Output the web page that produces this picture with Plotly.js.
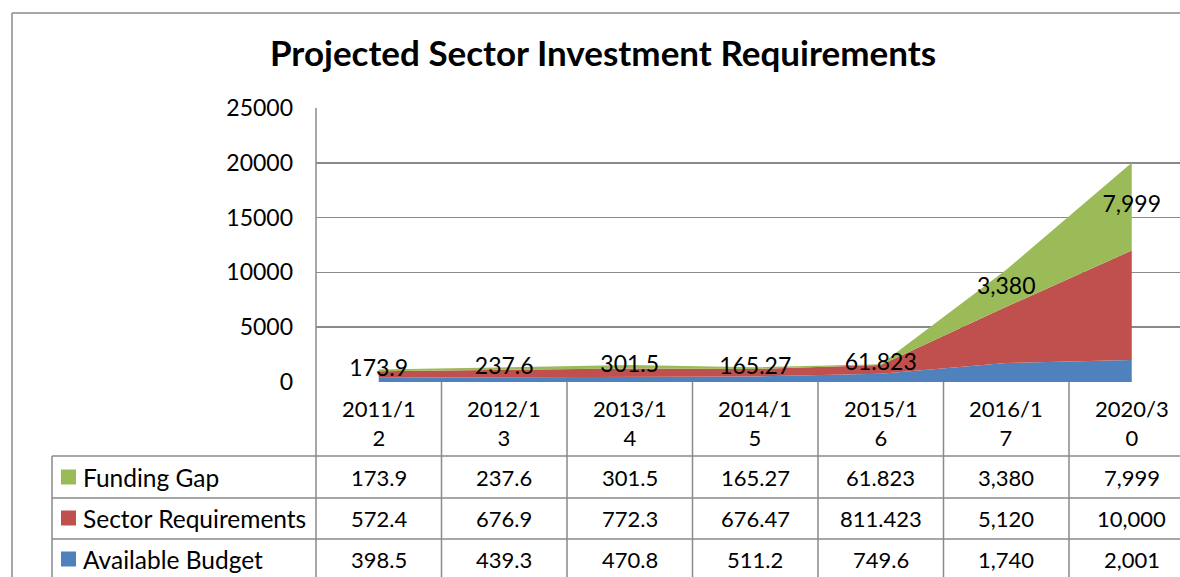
<!DOCTYPE html>
<html>
<head>
<meta charset="utf-8">
<script src="https://cdn.plot.ly/plotly-3.0.1.min.js"></script>
<style>
  html, body { margin: 0; padding: 0; background: #ffffff; }
  #chart { width: 1180px; height: 577px; }
</style>
</head>
<body>
<div id="chart"></div>
<script>
// ---- Data ----
const categories = ["2011/12", "2012/13", "2013/14", "2014/15", "2015/16", "2016/17", "2020/30"];
const seriesNames = ["Funding Gap", "Sector Requirements", "Available Budget"];
const fundingGap = [173.9, 237.6, 301.5, 165.27, 61.823, 3380, 7999];
const sectorRequirements = [572.4, 676.9, 772.3, 676.47, 811.423, 5120, 10000];
const availableBudget = [398.5, 439.3, 470.8, 511.2, 749.6, 1740, 2001];
const yTicks = [0, 5000, 10000, 15000, 20000, 25000];

// ---- Style ----
const FONT = "Lato, 'Open Sans', sans-serif";
const GRID = "#8a8a8a";
const colors = { "Funding Gap": "#9BBB59", "Sector Requirements": "#C0504D", "Available Budget": "#4F81BD" };

// pixel helpers (plot area: x 316..1180, y 108..382)
const PL = 316, PR = 1180, PT = 108, PB = 382;
const px2paperX = p => (p - PL) / (PR - PL);
const px2paperY = p => (PB - p) / (PB - PT);

const fmt = v => v.toLocaleString("en-US", { maximumFractionDigits: 3 });
const wrapCat = c => c.slice(0, 6) + "<br>" + c.slice(6);

const seriesData = {
  "Funding Gap": fundingGap,
  "Sector Requirements": sectorRequirements,
  "Available Budget": availableBudget
};

// stacked areas (bottom to top)
const stackOrder = ["Available Budget", "Sector Requirements", "Funding Gap"];
const traces = stackOrder.map(name => ({
  type: "scatter",
  mode: "lines",
  name: name,
  x: categories,
  y: seriesData[name],
  stackgroup: "one",
  line: { width: 0, color: colors[name] },
  fillcolor: colors[name],
  hoverinfo: "x+y+name"
}));

// data labels centred in the funding gap band
const labelY = categories.map((c, i) => availableBudget[i] + sectorRequirements[i] + fundingGap[i] / 2);
traces.push({
  type: "scatter",
  mode: "text",
  x: categories,
  y: labelY,
  text: fundingGap.map(fmt),
  textposition: "middle center",
  textfont: { family: FONT, size: 23, color: "#000000" },
  cliponaxis: false,
  hoverinfo: "skip",
  showlegend: false
});

// ---- Table (shapes + annotations) ----
const rowLinesPx = [456, 498, 539];
const rowCentersPx = [477, 518, 559];
const shapes = [];
const annotations = [];

// outer frame (left + top)
const frameX = px2paperX(12), frameY = px2paperY(13);
shapes.push({ type: "line", xref: "paper", yref: "paper", x0: frameX, x1: frameX, y0: frameY, y1: -1, line: { color: GRID, width: 1.5 } });
shapes.push({ type: "line", xref: "paper", yref: "paper", x0: frameX, x1: 1.05, y0: frameY, y1: frameY, line: { color: GRID, width: 1.5 } });

// vertical axis line through table
shapes.push({ type: "line", xref: "paper", yref: "paper", x0: 0, x1: 0, y0: 1, y1: -1, line: { color: GRID, width: 1.5 } });
// column separators
for (let i = 0; i < categories.length - 1; i++) {
  shapes.push({ type: "line", xref: "x", yref: "paper", x0: i + 0.5, x1: i + 0.5, y0: 0, y1: -1, line: { color: GRID, width: 1.5 } });
}
// left table border
shapes.push({ type: "line", xref: "paper", yref: "paper", x0: px2paperX(52), x1: px2paperX(52), y0: px2paperY(456), y1: -1, line: { color: GRID, width: 1.5 } });
// row lines
rowLinesPx.forEach(p => {
  shapes.push({ type: "line", xref: "paper", yref: "paper", x0: px2paperX(52), x1: 1.05, y0: px2paperY(p), y1: px2paperY(p), line: { color: GRID, width: 1.5 } });
});

// category header labels
categories.forEach((c, i) => {
  annotations.push({
    xref: "x", yref: "paper", x: c, y: px2paperY(423),
    text: wrapCat(c), showarrow: false, xanchor: "center", yanchor: "middle",
    font: { family: FONT, size: 22, color: "#000000" }
  });
});

// rows: legend key + name + values
seriesNames.forEach((name, r) => {
  const cy = rowCentersPx[r];
  shapes.push({
    type: "rect", xref: "paper", yref: "paper",
    x0: px2paperX(61), x1: px2paperX(76), y0: px2paperY(cy - 7.5), y1: px2paperY(cy + 7.5),
    fillcolor: colors[name], line: { width: 0 }
  });
  annotations.push({
    xref: "paper", yref: "paper", x: px2paperX(81), y: px2paperY(cy),
    text: name, showarrow: false, xanchor: "left", yanchor: "middle",
    font: { family: FONT, size: 24.5, color: "#000000" }
  });
  seriesData[name].forEach((v, i) => {
    annotations.push({
      xref: "x", yref: "paper", x: categories[i], y: px2paperY(cy),
      text: fmt(v), showarrow: false, xanchor: "center", yanchor: "middle",
      font: { family: FONT, size: 22, color: "#000000" }
    });
  });
});

const layout = {
  width: 1180,
  height: 577,
  margin: { l: PL, r: 1180 - PR, t: PT, b: 577 - PB, pad: 0 },
  paper_bgcolor: "#ffffff",
  plot_bgcolor: "#ffffff",
  showlegend: false,
  title: {
    text: "<b>Projected Sector Investment Requirements</b>",
    font: { family: FONT, size: 35, color: "#000000" },
    xref: "paper", yref: "paper",
    x: px2paperX(603), y: px2paperY(62),
    xanchor: "center", yanchor: "middle"
  },
  xaxis: {
    type: "category",
    categoryarray: categories,
    range: [-0.5, -0.5 + (PR - PL) / 125.5],
    showticklabels: false,
    showgrid: false,
    zeroline: false,
    showline: false,
    ticks: "",
    fixedrange: true
  },
  yaxis: {
    range: [0, 25000],
    tickvals: yTicks,
    ticktext: yTicks.map(String),
    showgrid: true,
    gridcolor: GRID,
    gridwidth: 1.5,
    zeroline: false,
    showline: false,
    ticks: "",
    ticklabelstandoff: 22,
    tickfont: { family: FONT, size: 23, color: "#000000" },
    fixedrange: true
  },
  shapes: shapes,
  annotations: annotations
};

Plotly.newPlot("chart", traces, layout, { displayModeBar: false, staticPlot: true });
</script>
</body>
</html>
